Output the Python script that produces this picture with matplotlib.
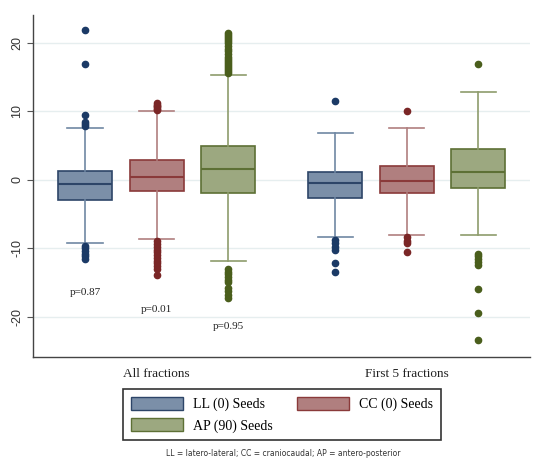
import matplotlib
matplotlib.use("Agg")
import matplotlib.pyplot as plt
from matplotlib.patches import Patch

# ---- data ----
groups = ["All fractions", "First 5 fractions"]
series = ["LL (0) Seeds", "CC (0) Seeds", "AP (90) Seeds"]

# per box: [whislo, q1, med, q3, whishi]
ll_all = [-9.3, -3.0, -0.63, 1.26, 7.6]
cc_all = [-8.7, -1.6, 0.48, 2.97, 10.0]
ap_all = [-11.9, -1.95, 1.6, 4.97, 15.4]
ll_f5 = [-8.3, -2.6, -0.5, 1.17, 6.9]
cc_f5 = [-8.0, -1.95, -0.24, 2.0, 7.65]
ap_f5 = [-8.1, -1.17, 1.17, 4.5, 12.9]

ll_all_out = [21.9, 16.9, 9.5, 8.4, 8.1, 7.8, -9.6, -10.0, -10.4, -10.8, -11.2, -11.6]
cc_all_out = [10.2, 10.4, 10.6, 10.8, 11.0, 11.3, -9.0, -9.4, -9.8, -10.2, -10.6,
              -11.0, -11.4, -11.8, -12.2, -12.6, -13.0, -13.9]
ap_all_out = [15.6, 15.9, 16.2, 16.5, 16.8, 17.1, 17.4, 17.7, 18.0, 18.4, 18.8, 19.2,
              19.6, 20.0, 20.3, 20.6, 20.9, 21.2, 21.5,
              -13.0, -13.4, -13.8, -14.2, -14.6, -15.0, -15.8, -16.3, -16.8, -17.3]
ll_f5_out = [11.6, -8.8, -9.3, -9.8, -10.3, -12.2, -13.4]
cc_f5_out = [10.0, -8.4, -8.9, -9.3, -10.6]
ap_f5_out = [16.9, -10.8, -11.2, -11.6, -12.0, -12.5, -15.9, -19.5, -23.4]

p_labels = ["p=0.87", "p=0.01", "p=0.95"]
p_y = [-16.5, -18.9, -21.5]

yticks = [-20, -10, 0, 10, 20]
caption = "LL = latero-lateral; CC = craniocaudal; AP = antero-posterior"

# ---- style ----
fills = ["#7b8fa8", "#b07f7f", "#9ca880"]
edges = ["#2d4568", "#8a3a3a", "#5d7035"]
whisk = ["#6f87a3", "#b07f7f", "#8e9c6c"]
dots = ["#1b3a66", "#7a2626", "#4a5e1c"]

boxes = [ll_all, cc_all, ap_all, ll_f5, cc_f5, ap_f5]
outs = [ll_all_out, cc_all_out, ap_all_out, ll_f5_out, cc_f5_out, ap_f5_out]
positions = [1, 2, 3, 4.5, 5.5, 6.5]

fig = plt.figure(figsize=(5.37, 4.59), dpi=100)
ax = fig.add_axes([33 / 537, 1 - 357 / 459, (530 - 33) / 537, (357 - 15) / 459])

for i, (b, o, pos) in enumerate(zip(boxes, outs, positions)):
    k = i % 3
    st = dict(whislo=b[0], q1=b[1], med=b[2], q3=b[3], whishi=b[4], fliers=o)
    ax.bxp([st], positions=[pos], widths=0.755, capwidths=0.49, patch_artist=True,
           showfliers=True,
           boxprops=dict(facecolor=fills[k], edgecolor=edges[k], linewidth=1.2),
           medianprops=dict(color=edges[k], linewidth=1.5),
           whiskerprops=dict(color=whisk[k], linewidth=1.2),
           capprops=dict(color=whisk[k], linewidth=1.2),
           flierprops=dict(marker="o", markerfacecolor=dots[k], markeredgecolor=dots[k],
                           markersize=4.5))

for j in range(3):
    ax.text(positions[j], p_y[j], p_labels[j], ha="center", va="center",
            family="Liberation Serif", fontsize=8, color="#222222")

ax.set_xlim(0.273, 7.22)
ax.set_ylim(-25.9, 24.1)
ax.set_yticks(yticks)
ax.set_yticklabels([str(t) for t in yticks], rotation=90, va="center",
                   family="Liberation Sans", fontsize=9, color="#333333")
ax.set_xticks([2, 5.5])
ax.set_xticklabels(groups, family="Liberation Serif", fontsize=9.5, color="#222222")
ax.tick_params(axis="x", length=0, pad=8)
ax.tick_params(axis="y", length=4, width=0.8, color="#555555", pad=3)
ax.grid(axis="y", color="#e6eeef", linewidth=1)
ax.set_axisbelow(True)
for s in ["top", "right"]:
    ax.spines[s].set_visible(False)
for s in ["left", "bottom"]:
    ax.spines[s].set_color("#444444")
    ax.spines[s].set_linewidth(1.0)

handles = [Patch(facecolor=fills[0], edgecolor=edges[0], label=series[0]),
           Patch(facecolor=fills[2], edgecolor=edges[2], label=series[2]),
           Patch(facecolor=fills[1], edgecolor=edges[1], label=series[1])]
leg = fig.legend(handles=handles, ncol=2, loc="upper left",
                 bbox_to_anchor=(123 / 537, 1 - 389 / 459), borderaxespad=0,
                 prop=dict(family="Liberation Serif", size=10),
                 handlelength=3.8, handleheight=1.1, fancybox=False,
                 edgecolor="#333333", framealpha=1, columnspacing=1.7,
                 labelspacing=0.5, borderpad=0.55, handletextpad=0.7)
leg.get_frame().set_linewidth(1.2)

fig.text(283 / 537, 1 - 453 / 459, caption, ha="center", va="center",
         family="Liberation Sans Narrow", fontsize=5.5, color="#333333")

fig.savefig("out.png", dpi=100)
